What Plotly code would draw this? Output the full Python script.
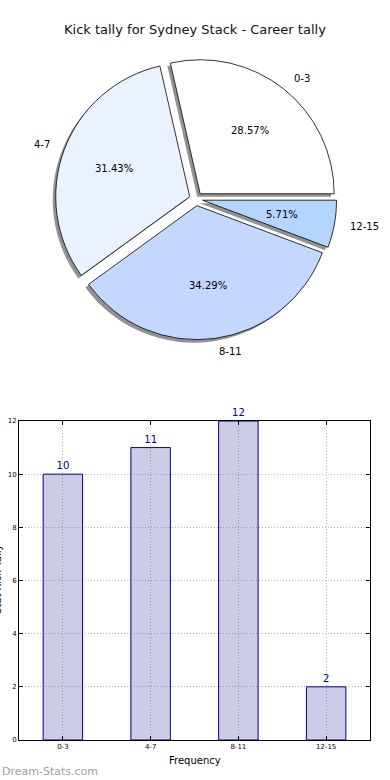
import math
import plotly.graph_objects as go

# ---- data ----
categories = ["0-3", "4-7", "8-11", "12-15"]
kick_counts = [10, 11, 12, 2]
pie_colors = ["#ffffff", "#eaf1ff", "#c4d8ff", "#b3d5ff"]
title_text = "Kick tally for Sydney Stack - Career tally"
y_ticks = [0, 2, 4, 6, 8, 10, 12]
x_title = "Frequency"
y_title = "Stat Kick Tally"
watermark = "Dream-Stats.com"

W, H = 390, 780
FONT = "DejaVu Sans"

total = sum(kick_counts)
# first wedge starts at 3 o'clock and runs counterclockwise
rotation = 90 - 360.0 * kick_counts[0] / total

# pie geometry (pixels)
cx, cy, r, pull = 196, 199, 134, 0.05
half = r * (1 + pull)

def dom_x(px0, px1):
    return [px0 / W, px1 / W]

def dom_y(py0, py1):
    return [1 - py1 / H, 1 - py0 / H]

fig = go.Figure()

# shadow pie
sh = 3
fig.add_trace(go.Pie(
    labels=categories, values=kick_counts, sort=False,
    direction="counterclockwise", rotation=rotation,
    pull=[pull] * len(kick_counts),
    marker=dict(colors=["rgba(110,110,110,0.75)"] * len(kick_counts), line=dict(width=0)),
    textinfo="none", hoverinfo="skip", showlegend=False,
    domain=dict(x=dom_x(cx - half - sh, cx + half - sh), y=dom_y(cy - half + sh, cy + half + sh)),
))
# main pie
fig.add_trace(go.Pie(
    labels=categories, values=kick_counts, sort=False,
    direction="counterclockwise", rotation=rotation,
    pull=[pull] * len(kick_counts),
    marker=dict(colors=pie_colors, line=dict(color="#000000", width=0.8)),
    textinfo="none", showlegend=False,
    domain=dict(x=dom_x(cx - half, cx + half), y=dom_y(cy - half, cy + half)),
))

annotations = []
start = 0.0
for cat, v in zip(categories, kick_counts):
    frac = v / total
    mid = (start + frac / 2) * 2 * math.pi
    start += frac
    dx, dy = math.cos(mid), math.sin(mid)
    pr = r * (pull + 0.6)
    annotations.append(dict(
        x=(cx + pr * dx) / W, y=1 - (cy - pr * dy) / H, xref="paper", yref="paper",
        text=f"{frac*100:.2f}%", showarrow=False, xanchor="center", yanchor="middle",
        font=dict(family=FONT, size=10, color="#000000")))
    lr = r * (pull + 1.1)
    annotations.append(dict(
        x=(cx + lr * dx) / W, y=1 - (cy - lr * dy) / H, xref="paper", yref="paper",
        text=cat, showarrow=False, xanchor="left" if dx > 0 else "right", yanchor="middle",
        font=dict(family=FONT, size=10, color="#000000")))

# bar chart
fig.add_trace(go.Bar(
    x=categories, y=kick_counts, width=0.45,
    marker=dict(color="rgba(0,0,128,0.2)", line=dict(color="#00008b", width=1)),
    text=[str(v) for v in kick_counts], textposition="outside",
    textfont=dict(family=FONT, size=10, color="#00008b"),
    cliponaxis=False, showlegend=False, hoverinfo="x+y",
))

axis_common = dict(
    showline=True, linecolor="black", linewidth=1, mirror="ticks",
    ticks="inside", ticklen=4, tickcolor="black",
    showgrid=True, gridcolor="#b8b8b8", griddash="1px,2px", gridwidth=1,
    tickfont=dict(family=FONT, size=7, color="#000000"), zeroline=False,
    automargin=False,
)

fig.update_layout(
    width=W, height=H,
    margin=dict(l=0, r=0, t=0, b=0, pad=0),
    paper_bgcolor="white", plot_bgcolor="white",
    font=dict(family=FONT, color="#000000"),
    xaxis=dict(domain=dom_x(19, 370), range=[-0.5, 3.5], type="category", **axis_common),
    yaxis=dict(domain=dom_y(421, 740), range=[0, 12], tickvals=y_ticks, **axis_common),
    bargap=0.55,
)

annotations += [
    dict(x=0.5, y=1 - 30 / H, xref="paper", yref="paper", text=title_text, showarrow=False,
         xanchor="center", yanchor="middle", font=dict(family=FONT, size=13, color="#111111")),
    dict(x=(19 + 370) / 2 / W, y=1 - 760 / H, xref="paper", yref="paper", text=x_title, showarrow=False,
         xanchor="center", yanchor="middle", font=dict(family=FONT, size=10, color="#000000")),
    dict(x=0, y=1 - 580 / H, xref="paper", yref="paper", text=y_title, showarrow=False,
         textangle=-90, xanchor="center", yanchor="middle", xshift=-3,
         font=dict(family=FONT, size=10, color="#000000")),
    dict(x=0, y=1 - 771 / H, xref="paper", yref="paper", text=watermark, showarrow=False,
         xanchor="left", yanchor="middle", font=dict(family=FONT, size=11, color="#a0a0a0")),
]
fig.update_layout(annotations=annotations)

fig.write_html("out.html", config={"displayModeBar": False},
               post_script="document.body.style.margin='0';")
